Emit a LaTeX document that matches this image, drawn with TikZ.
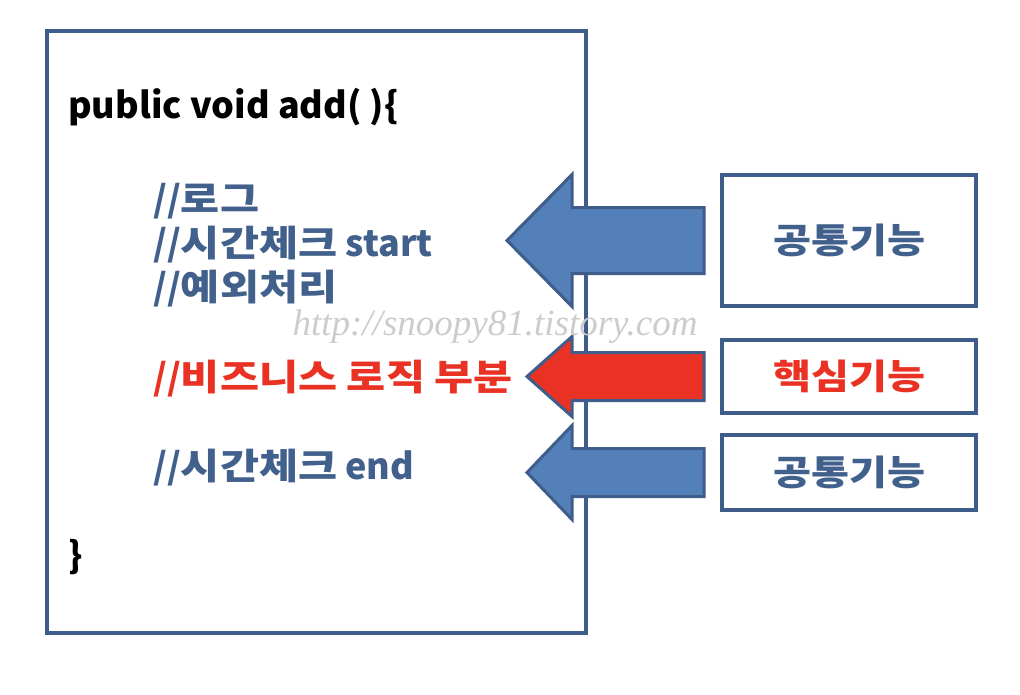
\documentclass[tikz,border=0pt]{standalone}
\usepackage{fontspec}
\setmainfont{Noto Sans CJK KR}
\newfontfamily\krfont{Noto Sans CJK KR}[FakeStretch=1.18]
\newfontfamily\markfont{Liberation Serif}
\newcommand{\kr}[1]{{\krfont\bfseries #1}}
\usetikzlibrary{calc}
\definecolor{codeblue}{RGB}{65,96,140}
\definecolor{edgeblue}{RGB}{63,93,138}
\definecolor{arrowblue}{RGB}{84,128,185}
\definecolor{corered}{RGB}{234,50,36}

% block arrow pointing left: fill, target box, tip x, shaft half, head half
\newcommand{\blockarrow}[5]{%
  \draw[blockarr, fill=#1] let \p1=($(#2.west)+(-16,0)$) in
    (\x1,\y1+#4) -- (572pt,\y1+#4) -- (572pt,\y1+#5) -- (#3pt,\y1)
    -- (572pt,\y1-#5) -- (572pt,\y1-#4) -- (\x1,\y1-#4) -- cycle;}

\begin{document}
\begin{tikzpicture}[x=1pt,y=-1pt,
    frame/.style={draw=edgeblue, line width=4pt, fill=white},
    funcbox/.style={draw=edgeblue, line width=4pt, minimum width=254pt, inner sep=0pt, font=\fontsize{35}{40}\selectfont\bfseries},
    codeline/.style={anchor=base west, inner sep=0pt, font=\fontsize{36}{40}\selectfont\bfseries},
    blockarr/.style={draw=edgeblue, line width=3pt, miter limit=10}
  ]
  \useasboundingbox (0,0) rectangle (1020,694);

  % method body
  \draw[frame] (47,31) rectangle (586,633);
  \node[codeline] (head) at (68,118) {public void add( )\{};
  \node[codeline, text=codeblue] (log) at (153,212) {//\kr{로그}};
  \node[codeline, text=codeblue] (tstart) at (153,256) {//\kr{시간체크} start};
  \node[codeline, text=codeblue] (except) at (153,300) {//\kr{예외처리}};
  \node[codeline, text=corered] (logic) at (153,390) {//\kr{비즈니스 로직 부분}};
  \node[codeline, text=codeblue] (tend) at (153,479) {//\kr{시간체크} end};
  \node[codeline] (tail) at (68,568) {\}};

  % concerns
  \node[funcbox, minimum height=131pt, text=codeblue] (common1) at (849,240.5) {\kr{공통기능}};
  \node[funcbox, minimum height=73pt, text=corered] (core) at (849,376.5) {\kr{핵심기능}};
  \node[funcbox, minimum height=75pt, text=codeblue] (common2) at (849,472.5) {\kr{공통기능}};

  \blockarrow{arrowblue}{common1}{507}{33}{66}
  \blockarrow{corered}{core}{527}{24}{40}
  \blockarrow{arrowblue}{common2}{527}{24}{47}

  \node[text=gray!40, font=\markfont\itshape\fontsize{37}{40}\selectfont] (mark) at (495,327) {http://snoopy81.tistory.com};
\end{tikzpicture}
\end{document}
